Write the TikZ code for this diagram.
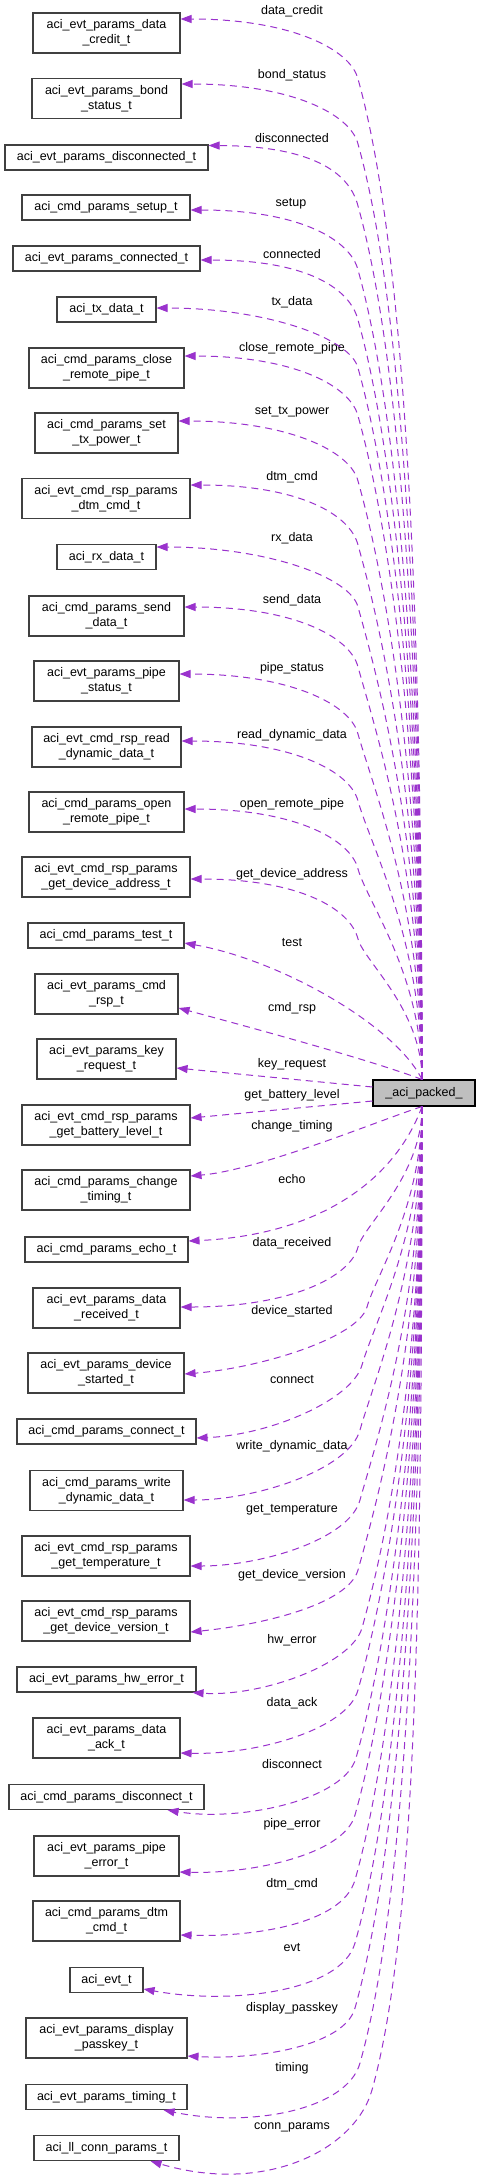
\documentclass[tikz,border=0pt]{standalone}
\usepackage{fontspec}
\setmainfont{Liberation Sans}
\usetikzlibrary{arrows.meta,calc}
\definecolor{edgecol}{HTML}{9A32CD}
\definecolor{pkfill}{HTML}{BFBFBF}
\definecolor{boxline}{HTML}{404040}
\newcommand\labfont{\fontsize{12.5}{15}\selectfont}
\begin{document}
\begin{tikzpicture}[x=1pt,y=-1pt,
  cls/.style={draw=boxline, line width=1.1pt, fill=white, inner sep=0pt, align=center, font=\labfont, minimum height=40pt},
  one/.style={minimum height=25pt},
  edge/.style={draw=edgecol, line width=1pt, dash pattern=on 7pt off 5pt, -{Triangle[length=11pt,width=8pt]}},
  elab/.style={inner sep=0pt, font=\labfont}]
\useasboundingbox[fill=white] (0,0) rectangle (480,2179);

% central node
\node[draw=black, line width=1.1pt, fill=pkfill, inner sep=0pt, font=\labfont, minimum width=102pt, minimum height=26pt] (packed) at (424,1093) {\_aci\_packed\_};

% class nodes
\node[cls, minimum width=147pt] (dc) at (106.5,33) {aci\_evt\_params\_data\\\_credit\_t};
\node[cls, minimum width=149pt] (bs) at (106.5,98.5) {aci\_evt\_params\_bond\\\_status\_t};
\node[cls, one, minimum width=203pt] (dis) at (106.5,157.5) {aci\_evt\_params\_disconnected\_t};
\node[cls, one, minimum width=168pt] (setup) at (106,207.5) {aci\_cmd\_params\_setup\_t};
\node[cls, one, minimum width=187pt] (conn) at (106.5,258.5) {aci\_evt\_params\_connected\_t};
\node[cls, one, minimum width=99pt] (tx) at (106.5,309.5) {aci\_tx\_data\_t};
\node[cls, minimum width=155pt] (crp) at (106.5,368) {aci\_cmd\_params\_close\\\_remote\_pipe\_t};
\node[cls, minimum width=143pt] (stp) at (106.5,433) {aci\_cmd\_params\_set\\\_tx\_power\_t};
\node[cls, minimum width=168pt] (edtm) at (106,498.5) {aci\_evt\_cmd\_rsp\_params\\\_dtm\_cmd\_t};
\node[cls, one, minimum width=99pt] (rx) at (106.5,557) {aci\_rx\_data\_t};
\node[cls, minimum width=155pt] (sd) at (106.5,616) {aci\_cmd\_params\_send\\\_data\_t};
\node[cls, minimum width=145pt] (ps) at (106.5,681) {aci\_evt\_params\_pipe\\\_status\_t};
\node[cls, minimum width=149pt] (rdd) at (106.5,747) {aci\_evt\_cmd\_rsp\_read\\\_dynamic\_data\_t};
\node[cls, minimum width=155pt] (orp) at (106.5,812) {aci\_cmd\_params\_open\\\_remote\_pipe\_t};
\node[cls, minimum width=168pt] (gda) at (106,877) {aci\_evt\_cmd\_rsp\_params\\\_get\_device\_address\_t};
\node[cls, one, minimum width=156pt] (test) at (106,935.5) {aci\_cmd\_params\_test\_t};
\node[cls, minimum width=143pt] (cr) at (106.5,994) {aci\_evt\_params\_cmd\\\_rsp\_t};
\node[cls, minimum width=139pt] (kr) at (106.5,1059) {aci\_evt\_params\_key\\\_request\_t};
\node[cls, minimum width=168pt] (gbl) at (106,1125) {aci\_evt\_cmd\_rsp\_params\\\_get\_battery\_level\_t};
\node[cls, minimum width=168pt] (ct) at (106,1190) {aci\_cmd\_params\_change\\\_timing\_t};
\node[cls, one, minimum width=163pt] (echo) at (106.5,1249.5) {aci\_cmd\_params\_echo\_t};
\node[cls, minimum width=147pt] (dr) at (106.5,1308) {aci\_evt\_params\_data\\\_received\_t};
\node[cls, minimum width=156pt] (dst) at (106,1373) {aci\_evt\_params\_device\\\_started\_t};
\node[cls, one, minimum width=179pt] (cn) at (106.5,1431.5) {aci\_cmd\_params\_connect\_t};
\node[cls, minimum width=153pt] (wdd) at (106.5,1490.5) {aci\_cmd\_params\_write\\\_dynamic\_data\_t};
\node[cls, minimum width=168pt] (gt) at (106,1556) {aci\_evt\_cmd\_rsp\_params\\\_get\_temperature\_t};
\node[cls, minimum width=168pt] (gdv) at (106,1621) {aci\_evt\_cmd\_rsp\_params\\\_get\_device\_version\_t};
\node[cls, one, minimum width=179pt] (hw) at (106.5,1679.5) {aci\_evt\_params\_hw\_error\_t};
\node[cls, minimum width=147pt] (dack) at (106.5,1738) {aci\_evt\_params\_data\\\_ack\_t};
\node[cls, one, minimum width=195pt] (disc) at (106.5,1797) {aci\_cmd\_params\_disconnect\_t};
\node[cls, minimum width=145pt] (pe) at (106.5,1856) {aci\_evt\_params\_pipe\\\_error\_t};
\node[cls, minimum width=147pt] (cdtm) at (106.5,1921) {aci\_cmd\_params\_dtm\\\_cmd\_t};
\node[cls, one, minimum width=73pt] (evt) at (106.5,1980) {aci\_evt\_t};
\node[cls, minimum width=161pt] (dp) at (106.5,2038) {aci\_evt\_params\_display\\\_passkey\_t};
\node[cls, one, minimum width=161pt] (timing) at (106.5,2097) {aci\_evt\_params\_timing\_t};
\node[cls, one, minimum width=145pt] (cp) at (106.5,2148) {aci\_ll\_conn\_params\_t};

% edge labels
\node[elab] (l1) at (292,11) {data\_credit};
\node[elab] (l2) at (292,75) {bond\_status};
\node[elab] (l3) at (292,138) {disconnected};
\node[elab] (l4) at (291,204) {setup};
\node[elab] (l5) at (292,254) {connected};
\node[elab] (l6) at (292,302) {tx\_data};
\node[elab] (l7) at (292,348) {close\_remote\_pipe};
\node[elab] (l8) at (292,412) {set\_tx\_power};
\node[elab] (l9) at (292,477) {dtm\_cmd};
\node[elab] (l10) at (292,538) {rx\_data};
\node[elab] (l11) at (292,600) {send\_data};
\node[elab] (l12) at (292,668) {pipe\_status};
\node[elab] (l13) at (292,735) {read\_dynamic\_data};
\node[elab] (l14) at (292,804) {open\_remote\_pipe};
\node[elab] (l15) at (292,874) {get\_device\_address};
\node[elab] (l16) at (292,943) {test};
\node[elab] (l17) at (292,1008) {cmd\_rsp};
\node[elab] (l18) at (292,1064) {key\_request};
\node[elab] (l19) at (292,1095) {get\_battery\_level};
\node[elab] (l20) at (292,1126) {change\_timing};
\node[elab] (l21) at (292,1179) {echo};
\node[elab] (l22) at (292,1243) {data\_received};
\node[elab] (l23) at (292,1311) {device\_started};
\node[elab] (l24) at (292,1380) {connect};
\node[elab] (l25) at (292,1446) {write\_dynamic\_data};
\node[elab] (l26) at (292,1510) {get\_temperature};
\node[elab] (l27) at (292,1575) {get\_device\_version};
\node[elab] (l28) at (292,1640) {hw\_error};
\node[elab] (l29) at (292,1703) {data\_ack};
\node[elab] (l30) at (292,1764) {disconnect};
\node[elab] (l31) at (292,1824) {pipe\_error};
\node[elab] (l32) at (292,1884) {dtm\_cmd};
\node[elab] (l33) at (292,1947) {evt};
\node[elab] (l34) at (292,2008) {display\_passkey};
\node[elab] (l35) at (292,2068) {timing};
\node[elab] (l36) at (292,2127) {conn\_params};

% upper edges
\coordinate (S) at ($(packed.north)+(-2,0)$);
\coordinate (S2) at ($(packed.south)+(-2,0)$);
\draw[edge] (S) .. controls (422,579.5) and (403,239.2) .. (358,79) .. controls (350.5,49) and (290,19) .. ($(dc.east)+(0,-14)$);
\draw[edge] (S) .. controls (422,612) and (400.1,293.8) .. (358,144) .. controls (350.5,114) and (291,84) .. ($(bs.east)+(0,-14.5)$);
\draw[edge] (S) .. controls (422,643) and (397.3,345.8) .. (358,206) .. controls (350.5,176) and (318,146) .. ($(dis.east)+(0,-12)$);
\draw[edge] (S) .. controls (422,675) and (394.5,399.6) .. (358,270) .. controls (350.5,240) and (300,210) .. ($(setup.east)+(0,2.5)$);
\draw[edge] (S) .. controls (422,700) and (392.2,441.6) .. (358,320) .. controls (350.5,290) and (310,260) .. ($(conn.east)+(0,1.5)$);
\draw[edge] (S) .. controls (422,724) and (390,481.9) .. (358,368) .. controls (350.5,338) and (266,308) .. ($(tx.east)+(0,-1.5)$);
\draw[edge] (S) .. controls (422,748) and (387.9,522.2) .. (358,416) .. controls (350.5,386) and (294,356) .. ($(crp.east)+(0,-12)$);
\draw[edge] (S) .. controls (422,780.5) and (385,576.8) .. (358,481) .. controls (350.5,451) and (288,421) .. ($(stp.east)+(0,-12)$);
\draw[edge] (S) .. controls (422,812.5) and (382.1,630.6) .. (358,545) .. controls (350.5,515) and (300,485) .. ($(edtm.east)+(0,-13.5)$);
\draw[edge] (S) .. controls (422,843.5) and (379.3,682.7) .. (358,607) .. controls (350.5,577) and (266,547) .. ($(rx.east)+(0,-10)$);
\draw[edge] (S) .. controls (422,873.5) and (376.6,733.1) .. (358,667) .. controls (350.5,637) and (294,607) .. ($(sd.east)+(0,-9)$);
\draw[edge] (S) .. controls (422,907) and (373.6,789.4) .. (358,734) .. controls (350.5,704) and (289,674) .. ($(ps.east)+(0,-7)$);
\draw[edge] (S) .. controls (422,940.5) and (370.6,845.6) .. (358,801) .. controls (350.5,771) and (291,741) .. ($(rdd.east)+(0,-6)$);
\draw[edge] (S) .. controls (422,974.5) and (367.5,902.8) .. (358,869) .. controls (350.5,839) and (294,809) .. ($(orp.east)+(0,-3)$);
\draw[edge] (S) .. controls (422,1009.5) and (364.3,961.6) .. (358,939) .. controls (350.5,909) and (300,879) .. ($(gda.east)+(0,2)$);
\draw[edge] (S) .. controls (395,1025) and (280,960) .. ($(test.east)+(0,7.5)$);
\draw[edge] (S) .. controls (370,1060) and (260,1030) .. ($(cr.east)+(0,14)$);
\draw[edge] ($(packed.west)+(0,-6)$) -- ($(kr.east)+(0,9)$);
% lower edges
\draw[edge] ($(packed.west)+(0,8)$) -- ($(gbl.east)+(0,-7)$);
\draw[edge] (S2) .. controls (380,1120) and (260,1170) .. ($(ct.east)+(0,-14)$);
\draw[edge] (S2) .. controls (395,1180) and (320,1235) .. ($(echo.east)+(0,-8.5)$);
\draw[edge] (S2) .. controls (422,1176.5) and (364.3,1224.4) .. (358,1247) .. controls (350.5,1277) and (290,1307) .. ($(dr.east)+(0,-1)$);
\draw[edge] (S2) .. controls (422,1206.5) and (376,1274.8) .. (367,1307) .. controls (358,1338) and (260,1368) .. ($(dst.east)+(0,1)$);
\draw[edge] (S2) .. controls (422,1235.5) and (373.7,1323.6) .. (362,1365) .. controls (352,1400) and (270,1435) .. ($(cn.east)+(0,6.5)$);
\draw[edge] (S2) .. controls (422,1268) and (374.6,1378.2) .. (360,1430) .. controls (349,1470) and (255,1500) .. ($(wdd.east)+(0,9.5)$);
\draw[edge] (S2) .. controls (422,1303) and (377.7,1437) .. (360,1500) .. controls (349,1540) and (260,1566) .. ($(gt.east)+(0,10)$);
\draw[edge] (S2) .. controls (422,1338) and (378.9,1495.8) .. (358,1570) .. controls (348,1605) and (260,1625) .. ($(gdv.east)+(0,11)$);
\draw[edge] (S2) .. controls (422,1367) and (385.5,1544.5) .. (362,1628) .. controls (351,1665) and (260,1697) .. ($(hw.south east)+(-4,0)$);
\draw[edge] (S2) .. controls (422,1398) and (384.3,1596.6) .. (358,1690) .. controls (347,1730) and (255,1755) .. ($(dack.east)+(0,15)$);
\draw[edge] (S2) .. controls (422,1432) and (385.3,1653.7) .. (356,1758) .. controls (344,1800) and (240,1822) .. ($(disc.south east)+(-37,0)$);
\draw[edge] (S2) .. controls (422,1460.5) and (386.9,1701.6) .. (355,1815) .. controls (344,1855) and (250,1874) .. ($(pe.east)+(0,16)$);
\draw[edge] (S2) .. controls (422,1493) and (389.8,1756.2) .. (355,1880) .. controls (342,1925) and (250,1937) .. ($(cdtm.east)+(0,14)$);
\draw[edge] (S2) .. controls (422,1524.5) and (392.7,1809.1) .. (355,1943) .. controls (341,1992) and (230,2005) .. ($(evt.east)+(0,9)$);
\draw[edge] (S2) .. controls (422,1557) and (395.6,1863.7) .. (355,2008) .. controls (345,2045) and (260,2060) .. ($(dp.east)+(0,18)$);
\draw[edge] (S2) .. controls (422,1584.5) and (403,1909.9) .. (360,2063) .. controls (347,2110) and (250,2128) .. ($(timing.south east)+(-24,0)$);
\draw[edge] (S2) .. controls (422,1598) and (416,1932.6) .. (372,2090) .. controls (355,2150) and (265,2195) .. ($(cp.south east)+(-29,0)$);
\end{tikzpicture}
\end{document}
